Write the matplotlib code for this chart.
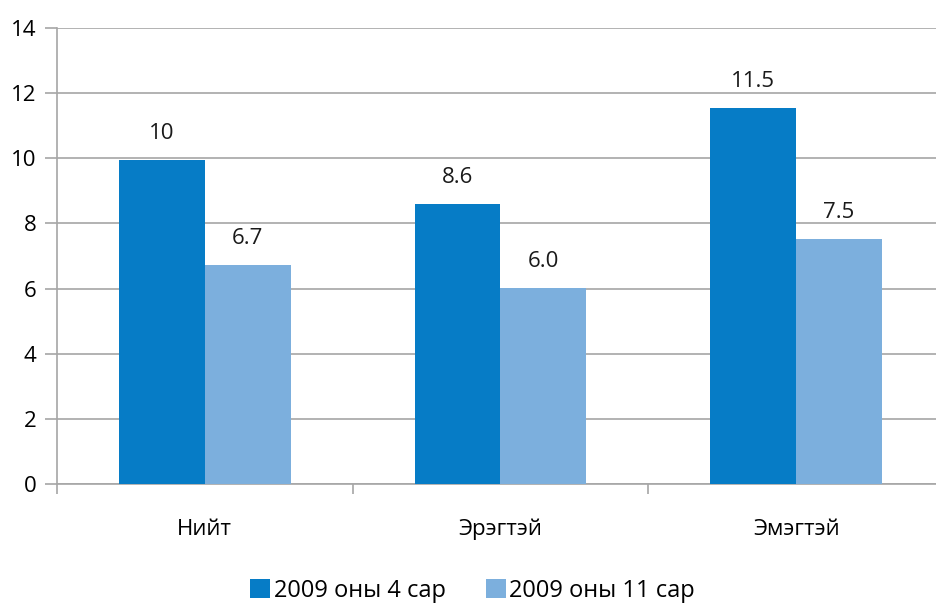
import matplotlib.pyplot as plt
import numpy as np

categories = ["Нийт", "Эрэгтэй", "Эмэгтэй"]
series_names = ["2009 оны 4 сар", "2009 оны 11 сар"]
apr_values = [9.95, 8.6, 11.55]
nov_values = [6.72, 6.02, 7.52]
apr_labels = ["10", "8.6", "11.5"]
nov_labels = ["6.7", "6.0", "7.5"]

plt.rcParams['font.family'] = ['Open Sans', 'DejaVu Sans']

dark = "#067CC6"
light = "#7CAFDD"
grid_col = "#A6A6A6"

fig = plt.figure(figsize=(9.36, 6.04), dpi=100)
# axes run a bit past the right edge, like the original
ax = fig.add_axes([57 / 936, 1 - 484 / 604, (944 - 57) / 936, (484 - 28) / 604])

x = np.arange(len(categories))
w = 0.29
b1 = ax.bar(x - w / 2, apr_values, w, color=dark, label=series_names[0], zorder=3)
b2 = ax.bar(x + w / 2, nov_values, w, color=light, label=series_names[1], zorder=3)

for rect, lab in zip(b1, apr_labels):
    ax.text(rect.get_x() + rect.get_width() / 2, rect.get_height() + 0.5, lab,
            ha="center", va="bottom", fontsize=16, color="#1a1a1a")
for rect, lab in zip(b2, nov_labels):
    ax.text(rect.get_x() + rect.get_width() / 2, rect.get_height() + 0.5, lab,
            ha="center", va="bottom", fontsize=16, color="#1a1a1a")

ax.set_xlim(-0.5, 2.5)
ax.set_ylim(0, 14)
ax.set_yticks(range(0, 15, 2))
ax.yaxis.grid(True, color=grid_col, linewidth=1.2, zorder=0)
ax.set_axisbelow(True)

# category separators as minor ticks, labels at centers
ax.set_xticks(x)
ax.set_xticklabels(categories)
ax.set_xticks([-0.5, 0.5, 1.5, 2.5], minor=True)
ax.tick_params(axis="x", which="major", length=0, pad=25, labelsize=16)
ax.tick_params(axis="x", which="minor", length=7, color=grid_col, width=1.2)
ax.tick_params(axis="y", length=9, color=grid_col, width=1.2, pad=6, labelsize=16)

for s in ["top", "right"]:
    ax.spines[s].set_visible(False)
for s in ["left", "bottom"]:
    ax.spines[s].set_color(grid_col)
    ax.spines[s].set_linewidth(1.2)

fig.legend(loc="lower center", ncol=2, frameon=False, fontsize=17,
           bbox_to_anchor=(0.505, -0.033), handlelength=0.85, handleheight=0.85,
           handletextpad=0.15, columnspacing=1.7)

fig.savefig("out.png", dpi=100)
